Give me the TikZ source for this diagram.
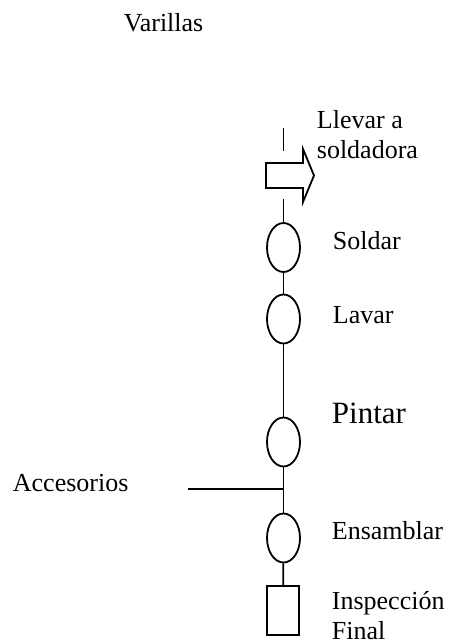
\documentclass[tikz,border=0pt]{standalone}
\usepackage{fontspec}
\setmainfont{Liberation Serif}
\usetikzlibrary{shapes.geometric}
\begin{document}
\begin{tikzpicture}[x=1pt,y=-1pt,line width=1.8pt,
  opstep/.style={ellipse,draw,minimum width=33,minimum height=49,inner sep=0pt},
  inspstep/.style={rectangle,draw,minimum width=32,minimum height=49,inner sep=0pt},
  lbl/.style={anchor=base west,inner sep=0pt,align=left,font=\fontsize{26}{30}\selectfont}]
\useasboundingbox (0,0) rectangle (450,644);

% operations and inspection
\node[opstep] (soldar) at (283.5,247.5) {};
\node[opstep] (lavar) at (283.5,319) {};
\node[opstep] (pintar) at (283.5,442) {};
\node[opstep] (ensamblar) at (283.5,538) {};
\node[inspstep] (inspeccion) at (283,610.5) {};

% transport arrow
\draw (266,163) -- (303,163) -- (303,149) -- (314,175.5) -- (303,202) -- (303,188) -- (266,188) -- cycle;

% flow line
\coordinate (in1) at (283.5,128);
\coordinate (in2) at (283.5,151);
\coordinate (out1) at (283.5,199);
\draw (in1) -- (in2);
\draw (out1) -- (soldar);
\draw (soldar) -- (lavar);
\draw (lavar) -- (pintar);
\draw (pintar) -- (ensamblar);
\draw (ensamblar) -- (inspeccion);

% parts feed
\coordinate (acc) at (188,489);
\coordinate (join) at (283.5,489);
\draw (acc) -- (join);

% labels (multi-line labels sit on the baseline of their last line)
\node[lbl] (tvar) at (123,32) {Varillas};
\node[lbl] (tllevar) at (316,159) {Llevar a\\soldadora};
\node[lbl] (tsoldar) at (332,249) {Soldar};
\node[lbl] (tlavar) at (332,323) {Lavar};
\node[lbl,font=\fontsize{31}{36}\selectfont] (tpintar) at (331,423) {Pintar};
\node[lbl] (tacc) at (12,491) {Accesorios};
\node[lbl] (tens) at (331,539) {Ensamblar};
\node[lbl] (tinsp) at (331,639) {Inspección\\Final};
\end{tikzpicture}
\end{document}
